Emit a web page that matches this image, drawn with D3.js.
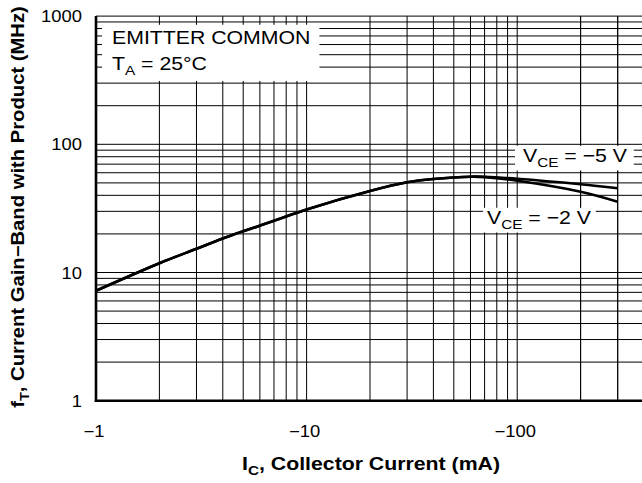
<!DOCTYPE html>
<html><head><meta charset="utf-8">
<script src="https://cdn.jsdelivr.net/npm/d3@7"></script>
<style>html,body{margin:0;padding:0;background:#fff;}svg{display:block;}</style>
</head><body>
<svg id="c" width="642" height="483"></svg>
<script>
// Data
const collectorCurrent = [1, 2, 3, 4, 7, 10, 20, 30, 40, 60, 70, 100, 200, 300];      // |IC| mA
const fT_VCE5 = [7.2, 11.8, 15.3, 18.4, 25.3, 31, 43.2, 50.5, 53.6, 55.9, 55.8, 53.9, 48.8, 45.4];
const fT_VCE2 = [7.2, 11.8, 15.3, 18.4, 25.3, 31, 43.2, 50.5, 53.6, 55.9, 55.5, 52.0, 42.7, 35.7];
const xTickValues = [1, 10, 100];
const xTickLabels = ["\u22121", "\u221210", "\u2212100"];
const yTickValues = [1, 10, 100, 1000];
const yTickLabels = ["1", "10", "100", "1000"];

(function () {
const svg = d3.select("#c");
const SX = 1.15; // horizontal glyph stretch
const FONT = "'Liberation Sans', Arial, Helvetica, sans-serif";

const pL = 96, pR = 644, pT = 16.1, pB = 400.7;
const x = d3.scaleLog().domain([1, 400]).range([pL, pR]);
const y = d3.scaleLog().domain([1, 1000]).range([pB, pT]);

svg.append("defs").append("clipPath").attr("id", "pc")
  .append("rect").attr("x", pL).attr("y", pT - 1).attr("width", 642 - pL).attr("height", pB - pT + 2);

const grid = svg.append("g").attr("clip-path", "url(#pc)");
const xg = [];
for (let d = 1; d <= 100; d *= 10) for (let k = 1; k <= 9; k++) xg.push(d * k);
xg.push(200, 300, 400);
grid.selectAll("line.vx").data(xg.filter(v => v > 1)).enter().append("line")
  .attr("x1", d => x(d)).attr("x2", d => x(d)).attr("y1", pT).attr("y2", pB)
  .attr("stroke", "#000").attr("stroke-width", 1);
const yg = [];
for (let d = 1; d <= 100; d *= 10) for (let k = 1; k <= 9; k++) yg.push(d * k);
yg.push(1000);
grid.selectAll("line.hy").data(yg.filter(v => v > 1)).enter().append("line")
  .attr("x1", pL).attr("x2", 642).attr("y1", d => y(d)).attr("y2", d => y(d))
  .attr("stroke", "#000").attr("stroke-width", 1);

function stext(g, tx, ty, size, opts = {}) {
  return g.append("text")
    .attr("transform", `translate(${tx},${ty}) ${opts.rotate ? "rotate(" + opts.rotate + ")" : ""} scale(${SX},1)`)
    .attr("font-family", FONT).attr("font-size", size)
    .attr("font-weight", opts.bold ? "bold" : "normal")
    .attr("text-anchor", opts.anchor || "start").attr("fill", "#000");
}
function sub(t, main, s, rest, size) {
  t.append("tspan").text(main);
  t.append("tspan").attr("font-size", size * 0.72).attr("dy", size * 0.28).text(s);
  t.append("tspan").attr("dy", -size * 0.28).text(rest);
}

const line = d3.line().x(d => x(d[0])).y(d => y(d[1])).curve(d3.curveCatmullRom.alpha(0.5));
const curves = svg.append("g").attr("clip-path", "url(#pc)");
[fT_VCE5, fT_VCE2].forEach(s => {
  curves.append("path").datum(collectorCurrent.map((c, i) => [c, s[i]]))
    .attr("d", line).attr("fill", "none").attr("stroke", "#000").attr("stroke-width", 2.6)
    .attr("stroke-linejoin", "round");
});

const ann = svg.append("g");
function boxed(build, pad) {
  const g = ann.append("g");
  const r = g.append("rect").attr("fill", "#fff");
  const tg = g.append("g");
  build(tg);
  const bb = tg.node().getBoundingClientRect();
  r.attr("x", bb.left - pad[3]).attr("y", bb.top - pad[0])
   .attr("width", bb.width + pad[1] + pad[3]).attr("height", bb.height + pad[0] + pad[2]);
}
boxed(g => {
  stext(g, 112, 43.5, 18.5).text("EMITTER COMMON");
  sub(stext(g, 112, 70, 18.5), "T", "A", " = 25\u00B0C", 18.5);
}, [2, 9, 3, 10]);
boxed(g => {
  sub(stext(g, 523, 161.5, 18.5), "V", "CE", " = \u22125 V", 18.5);
}, [-1, 6, 1, 8]);
boxed(g => {
  sub(stext(g, 487, 223.5, 18.5), "V", "CE", " = \u22122 V", 18.5);
}, [-1, 4, 1, 4]);

svg.append("line").attr("x1", pL).attr("x2", pL).attr("y1", pT).attr("y2", pB + 1.2)
  .attr("stroke", "#000").attr("stroke-width", 2.6);
svg.append("line").attr("x1", pL - 1.2).attr("x2", 642).attr("y1", pB).attr("y2", pB)
  .attr("stroke", "#000").attr("stroke-width", 2.6);

const tl = svg.append("g");
xTickValues.forEach((v, i) => {
  stext(tl, x(v) - 2, 437, 16, { anchor: "middle" }).text(xTickLabels[i]);
});
yTickValues.forEach((v, i) => {
  const yy = Math.max(y(v) + 6, 19);
  stext(tl, 82, yy, 16, { anchor: "end" }).text(yTickLabels[i]);
});

sub(stext(svg, 371, 470, 18.5, { anchor: "middle", bold: true }), "I", "C", ", Collector Current (mA)", 18.5);
sub(stext(svg, 24, 207, 17.6, { anchor: "middle", bold: true, rotate: -90 }), "f", "T", ", Current Gain\u2212Band with Product (MHz)", 17.6);
})();
</script>
</body></html>
